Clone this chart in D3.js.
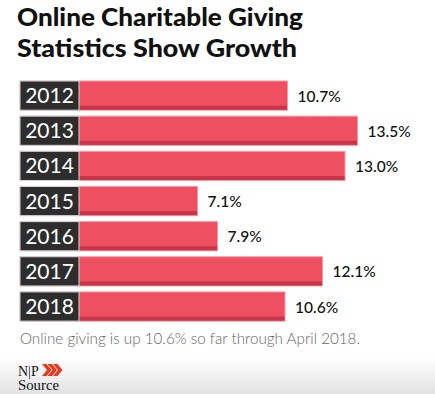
<!DOCTYPE html>
<html><head><meta charset="utf-8">
<script src="https://cdn.jsdelivr.net/npm/d3@7/dist/d3.min.js"></script>
<style>
html,body{margin:0;padding:0;background:#fff;}
svg{display:block;}
</style></head>
<body>
<svg id="c" width="435" height="394"></svg>
<script>
const years = ["2012","2013","2014","2015","2016","2017","2018"];
const values = [10.7, 13.5, 13.0, 7.1, 7.9, 12.1, 10.6];
const valueLabels = ["10.7%","13.5%","13.0%","7.1%","7.9%","12.1%","10.6%"];
const titleLines = ["Online Charitable Giving","Statistics Show Growth"];
const titleWidths = [286, 280];
const note = "Online giving is up 10.6% so far through April 2018.";

const svg = d3.select("#c");
const defs = svg.append("defs");
const g1 = defs.append("linearGradient").attr("id","foot").attr("x1",0).attr("y1",0).attr("x2",0).attr("y2",1);
g1.append("stop").attr("offset","0").attr("stop-color","#ffffff");
g1.append("stop").attr("offset","1").attr("stop-color","#e2e2e2");
svg.append("rect").attr("x",0).attr("y",358).attr("width",435).attr("height",36).attr("fill","url(#foot)");

svg.selectAll("text.title").data(titleLines).join("text")
  .attr("class","title")
  .attr("x",17).attr("y",(d,i)=>26+i*31)
  .attr("font-family","Lato, sans-serif").attr("font-weight",900)
  .attr("font-size",25).attr("fill","#111")
  .attr("textLength",(d,i)=>titleWidths[i]).attr("lengthAdjust","spacingAndGlyphs")
  .text(d=>d);

const x = d3.scaleLinear().domain([0,14]).range([20,20+25*14]);
const y = d3.scaleBand().domain(years).range([81,81+34.3*7]).paddingInner(0.17).paddingOuter(0);
const bh = y.bandwidth();

const rows = svg.selectAll("g.row").data(years).join("g").attr("class","row")
  .attr("transform",d=>`translate(0,${y(d)})`);

rows.append("rect").attr("x",x(0)).attr("y",0)
  .attr("width",(d,i)=>x(values[i])-x(0)).attr("height",bh)
  .attr("fill","#ee5062").attr("stroke","#f59aa4").attr("stroke-width",1);
rows.append("rect").attr("x",x(0)+0.5).attr("y",bh-4.5)
  .attr("width",(d,i)=>x(values[i])-x(0)-1).attr("height",4)
  .attr("fill","#c8354a");
rows.append("rect").attr("x",20).attr("y",0).attr("width",59).attr("height",bh)
  .attr("fill","#2d2d2d").attr("stroke","#d8d8d8").attr("stroke-width",1);
rows.append("text").attr("x",49.5).attr("y",bh/2+7.5).attr("text-anchor","middle")
  .attr("font-family","Lato, sans-serif").attr("font-size",21).attr("fill","#fff")
  .text(d=>d);
rows.append("text").attr("x",(d,i)=>x(values[i])+10).attr("y",bh/2+6)
  .attr("font-family","Lato, sans-serif").attr("font-size",15.5).attr("font-weight",500).attr("fill","#111")
  .text((d,i)=>valueLabels[i]);

svg.append("text").attr("x",20).attr("y",344)
  .attr("font-family","Lato, sans-serif").attr("font-weight",300).attr("font-size",15).attr("fill","#666")
  .attr("textLength",340).attr("lengthAdjust","spacingAndGlyphs")
  .text(note);

const logo = svg.append("g");
logo.append("text").attr("x",18).attr("y",375.5).attr("font-family","'Liberation Serif', serif")
  .attr("font-size",14).attr("fill","#111").text("N|P");
logo.append("text").attr("x",18).attr("y",390).attr("font-family","'Liberation Serif', serif")
  .attr("font-size",14).attr("fill","#111").attr("textLength",41).attr("lengthAdjust","spacingAndGlyphs").text("Source");
[0,5.5,11].forEach(dx=>{
  logo.append("path").attr("d",`M${42+dx},364 l4.5,0 l5,6 l-5,6 l-4.5,0 l5,-6 z`).attr("fill","#e63a1e");
});
</script>
</body></html>
